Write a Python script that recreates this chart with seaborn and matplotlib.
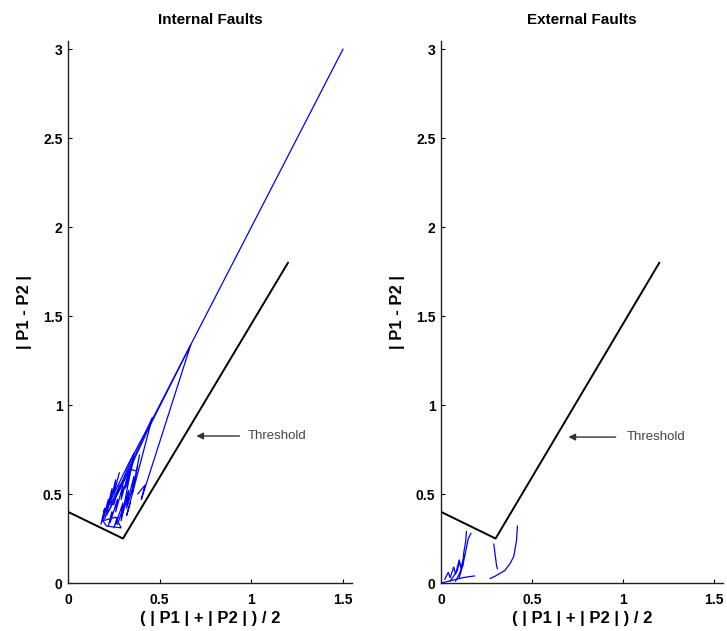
import numpy as np
import pandas as pd
import matplotlib
matplotlib.use("Agg")
import matplotlib.pyplot as plt
import seaborn as sns

# Restraint characteristic (threshold): differential vs. restraint quantity
threshold_x = [0.0, 0.3, 1.2]
threshold_y = [0.40, 0.25, 1.80]

# Operating-point trajectories for internal faults
internal = {
    "main":  ([0.19, 0.24, 0.33, 0.46, 0.66, 1.00, 1.50],
              [0.37, 0.48, 0.67, 0.92, 1.32, 2.00, 3.00]),
    "ret_a": ([0.22, 0.30, 0.45, 0.67, 0.40, 0.42, 0.38],
              [0.40, 0.56, 0.89, 1.34, 0.47, 0.55, 0.50]),
    "ret_b": ([0.21, 0.30, 0.46, 0.32, 0.34],
              [0.38, 0.57, 0.93, 0.38, 0.45]),
    "ret_c": ([0.23, 0.30, 0.36, 0.29],
              [0.44, 0.58, 0.73, 0.35]),
    "sq_1":  ([0.18, 0.20, 0.19, 0.22, 0.21, 0.24, 0.23, 0.26, 0.25, 0.28],
              [0.33, 0.42, 0.35, 0.47, 0.40, 0.53, 0.45, 0.58, 0.50, 0.62]),
    "sq_2":  ([0.22, 0.24, 0.23, 0.27, 0.26, 0.30, 0.29, 0.33, 0.32, 0.36],
              [0.32, 0.40, 0.34, 0.47, 0.40, 0.55, 0.47, 0.62, 0.54, 0.70]),
    "sq_3":  ([0.25, 0.27, 0.26, 0.30, 0.29, 0.33, 0.32, 0.36, 0.35, 0.38],
              [0.31, 0.37, 0.33, 0.45, 0.38, 0.52, 0.44, 0.60, 0.50, 0.66]),
    "sq_4":  ([0.27, 0.30, 0.29, 0.33, 0.32, 0.37, 0.35, 0.39],
              [0.33, 0.42, 0.36, 0.50, 0.42, 0.60, 0.50, 0.72]),
    "sq_5":  ([0.20, 0.23, 0.25, 0.28, 0.31, 0.34, 0.37],
              [0.36, 0.46, 0.44, 0.55, 0.53, 0.64, 0.63]),
    "loop":  ([0.19, 0.21, 0.29, 0.26, 0.19],
              [0.35, 0.32, 0.31, 0.37, 0.35]),
}

# Operating-point trajectories for external faults
external = {
    "streak": ([0.00, 0.04, 0.08, 0.12, 0.15, 0.185],
               [0.00, 0.01, 0.02, 0.03, 0.035, 0.04]),
    "rise_a": ([0.08, 0.10, 0.12, 0.13, 0.14, 0.15, 0.165],
               [0.01, 0.05, 0.10, 0.15, 0.20, 0.25, 0.28]),
    "rise_b": ([0.10, 0.12, 0.125, 0.135, 0.14],
               [0.03, 0.10, 0.17, 0.23, 0.29]),
    "zig_a":  ([0.02, 0.04, 0.05, 0.07, 0.08, 0.10, 0.11],
               [0.02, 0.06, 0.03, 0.09, 0.05, 0.13, 0.08]),
    "zig_b":  ([0.05, 0.07, 0.09, 0.10, 0.11, 0.13],
               [0.01, 0.04, 0.07, 0.12, 0.09, 0.16]),
    "drop":   ([0.29, 0.295, 0.30, 0.305, 0.31],
               [0.22, 0.18, 0.14, 0.10, 0.08]),
    "hook":   ([0.27, 0.30, 0.35, 0.38, 0.40, 0.415, 0.42],
               [0.025, 0.04, 0.07, 0.11, 0.15, 0.24, 0.32]),
}


def to_frame(trajs):
    rows = []
    for name, (xs, ys) in trajs.items():
        for i, (x, y) in enumerate(zip(xs, ys)):
            rows.append({"traj": name, "step": i, "x": x, "y": y})
    return pd.DataFrame(rows)


sns.set_style("ticks")
plt.rcParams["font.family"] = ["Liberation Sans", "DejaVu Sans"]
plt.rcParams["text.color"] = "black"
plt.rcParams["axes.labelcolor"] = "black"
plt.rcParams["xtick.color"] = "black"
plt.rcParams["ytick.color"] = "black"

fig = plt.figure(figsize=(7.27, 6.31), dpi=100)
ax1 = fig.add_axes([0.0935, 0.076, 0.391, 0.859])
ax2 = fig.add_axes([0.6066, 0.076, 0.388, 0.859])

thr = pd.DataFrame({"x": threshold_x, "y": threshold_y})
xticks = [0, 0.5, 1, 1.5]
xtick_labels = ["0", "0.5", "1", "1.5"]
yticks = [0, 0.5, 1, 1.5, 2, 2.5, 3]
ytick_labels = ["0", "0.5", "1", "1.5", "2", "2.5", "3"]

panels = [
    (ax1, internal, "Internal Faults", (0.70, 0.826), (0.935, 0.826), (0.978, 0.826)),
    (ax2, external, "External Faults", (0.70, 0.82), (0.96, 0.82), (1.02, 0.82)),
]

for ax, trajs, title, head, tail, txt in panels:
    df = to_frame(trajs)
    sns.lineplot(data=df, x="x", y="y", units="traj", estimator=None, sort=False,
                 color="#0000ff", lw=0.9, ax=ax)
    sns.lineplot(data=thr, x="x", y="y", sort=False, color="black", lw=1.4, ax=ax)
    ax.set_xlim(0, 1.55)
    ax.set_ylim(0, 3.045)
    ax.set_xticks(xticks)
    ax.set_xticklabels(xtick_labels, fontsize=10, fontweight="bold")
    ax.set_yticks(yticks)
    ax.set_yticklabels(ytick_labels, fontsize=10, fontweight="bold")
    ax.tick_params(direction="in", length=3, width=0.8)
    ax.tick_params(axis="x", pad=7)
    ax.tick_params(axis="y", pad=4)
    sns.despine(ax=ax)
    for s in ("left", "bottom"):
        ax.spines[s].set_linewidth(1.0)
        ax.spines[s].set_color("#222222")
    ax.set_title(title, fontsize=11, fontweight="bold", pad=12)
    ax.set_xlabel("( | P1 | + | P2 | ) / 2", fontsize=12, fontweight="bold", labelpad=3)
    ax.set_ylabel("| P1 - P2 |", fontsize=12, fontweight="bold", labelpad=8)
    ax.annotate("", xy=head, xytext=tail,
                arrowprops=dict(arrowstyle="-|>", color="#333333", lw=1.0,
                                mutation_scale=10, shrinkA=0, shrinkB=0))
    ax.text(txt[0], txt[1], "Threshold", fontsize=9.5, color="#444444",
            va="center", ha="left")

fig.savefig("out.png", dpi=100)
